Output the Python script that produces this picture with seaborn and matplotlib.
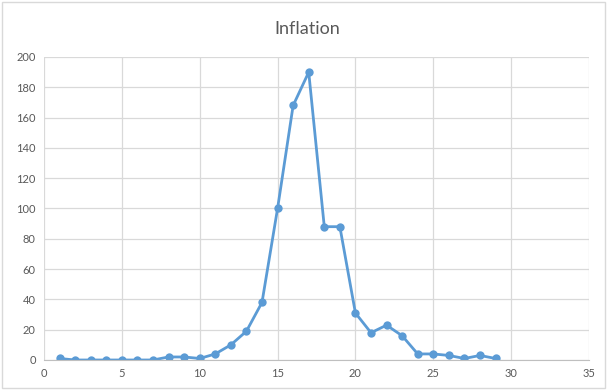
import numpy as np
import pandas as pd
import matplotlib
matplotlib.use("Agg")
import matplotlib.pyplot as plt
import seaborn as sb

years = list(range(1, 30))
inflation = [1, 0, 0, 0, 0, 0, 0, 2, 2, 1, 4, 10, 19, 38, 100, 168, 190,
             88, 88, 31, 18, 23, 16, 4, 4, 3, 1, 3, 1]
x_ticks = [0, 5, 10, 15, 20, 25, 30, 35]
y_ticks = [0, 20, 40, 60, 80, 100, 120, 140, 160, 180, 200]

df = pd.DataFrame({"Year": years, "Inflation": inflation})

sb.set_style("white")
plt.rcParams['font.family'] = ['Lato', 'DejaVu Sans']

fig = plt.figure(figsize=(6.07, 3.9), dpi=100)
ax = fig.add_axes([44 / 607, 30 / 390, 545 / 607, 303 / 390])

ax.set_axisbelow(True)
ax.grid(True, color="#d9d9d9", linewidth=0.9)
sb.lineplot(x="Year", y="Inflation", data=df, ax=ax, color="#5b9bd5",
            linewidth=2, marker="o", markersize=6, markeredgewidth=0)

ax.set_xlim(0, 35)
ax.set_ylim(0, 200)
ax.set_xticks(x_ticks)
ax.set_yticks(y_ticks)
ax.tick_params(axis="both", length=0, labelsize=8, labelcolor="#595959", pad=6)
ax.set(xlabel=None, ylabel=None)
for side in ["left", "right", "top"]:
    ax.spines[side].set_visible(False)
ax.spines["bottom"].set_color("#bfbfbf")

fig.text(0.507, 0.925, "Inflation", ha="center", va="center",
         fontsize=13, color="#595959")
fig.patches.append(plt.Rectangle((0.004, 0.004), 0.992, 0.992, transform=fig.transFigure,
                                 fill=False, edgecolor="#d9d9d9", linewidth=1))

fig.savefig("out.png", dpi=100)
